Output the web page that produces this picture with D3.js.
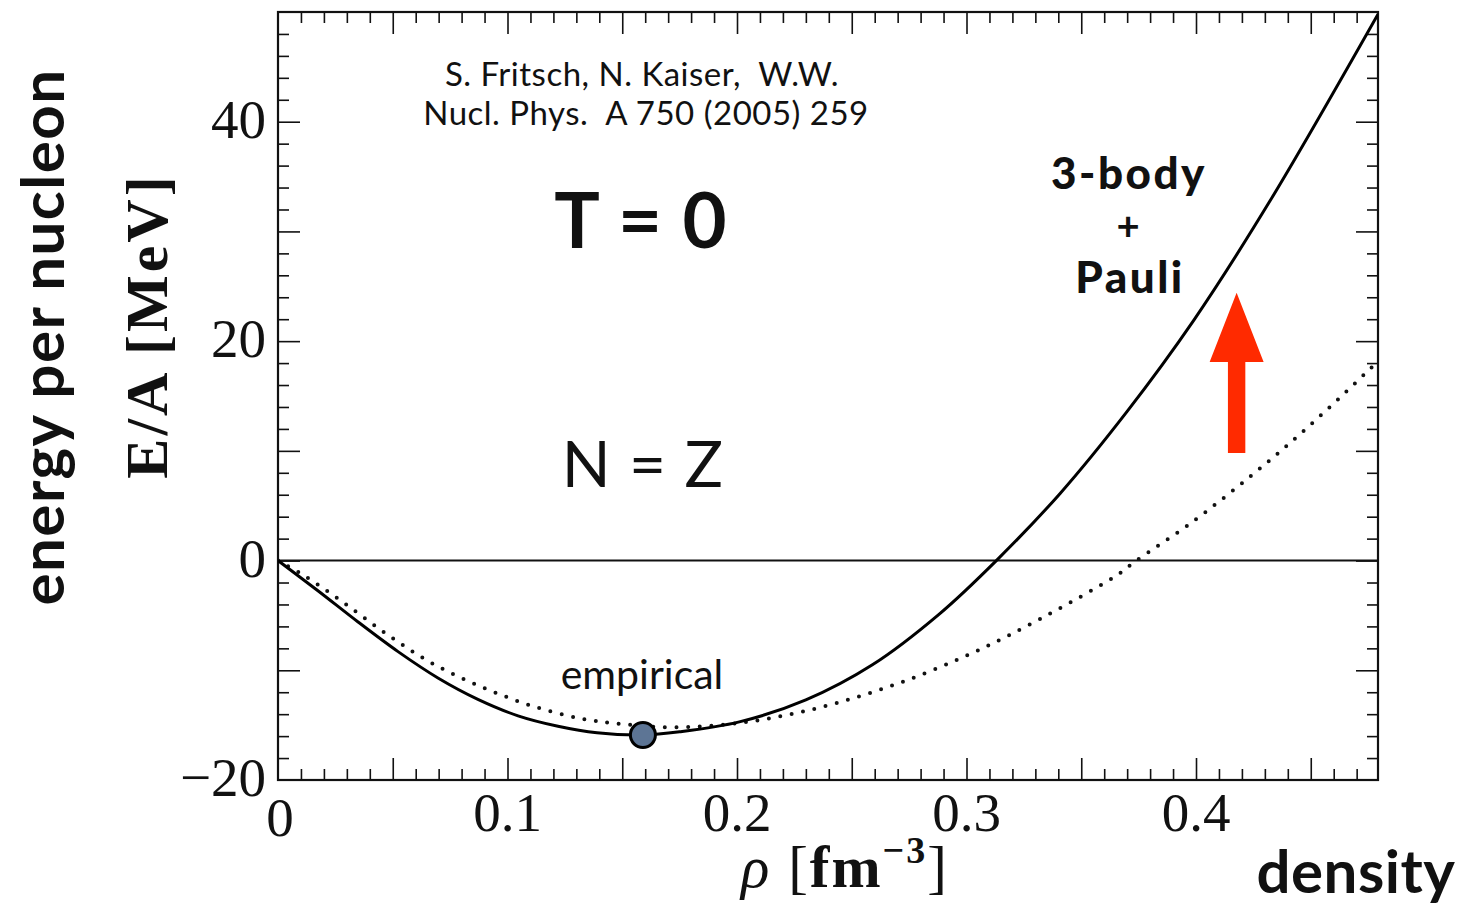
<!DOCTYPE html>
<html lang="en">
<head>
  <meta charset="UTF-8">
  <title>Energy per nucleon vs density</title>
  <script src="https://d3js.org/d3.v7.min.js"></script>
  <style>
    html, body { margin: 0; padding: 0; background: #fff; overflow: hidden; }
    svg { display: block; }
    .cm { font-family: "Liberation Serif", "DejaVu Serif", serif; fill: #111; }
    .gs { font-family: Lato, "Noto Sans", sans-serif; fill: #111; }
  </style>
</head>
<body>
  <svg width="1484" height="909"></svg>
  <script>
    // solid curve (3-body + Pauli)
    const solidRho = [0, 0.0174, 0.0349, 0.0523, 0.0697, 0.0871, 0.1046, 0.122, 0.139, 0.159, 0.175, 0.201, 0.230, 0.259, 0.288, 0.313, 0.3407, 0.370, 0.399, 0.432, 0.4793];
    const solidE   = [0, -2.75, -5.6, -8.3, -10.7, -12.65, -14.15, -15.1, -15.7, -15.9, -15.6, -14.7, -12.7, -9.5, -4.9, 0, 6.1, 13.6, 21.9, 32.7, 49.8];
    // dotted curve (without)
    const dottedRho = [0, 0.0116, 0.029, 0.048, 0.0675, 0.0886, 0.110, 0.132, 0.150, 0.172, 0.201, 0.230, 0.259, 0.288, 0.320, 0.365, 0.374, 0.397, 0.425, 0.450, 0.4765];
    const dottedE   = [0, -1.4, -3.9, -6.8, -9.4, -11.5, -13.2, -14.4, -14.9, -15.2, -14.8, -13.7, -12.0, -9.75, -6.65, -1.4, 0, 3.3, 7.9, 12.4, 17.6];
    // empirical saturation point
    const empiricalPoint = [0.159, -15.9];
    // red arrow: rho, then tail / head base / tip energies
    const arrowRho = 0.4177;
    const arrowE = [9.8, 18.1, 24.4];

    const xTickLabels = [0, 0.1, 0.2, 0.3, 0.4];
    const yTickLabels = [-20, 0, 20, 40];

    const svg = d3.select("svg");
    const width = +svg.attr("width");
    const height = +svg.attr("height");
    const margin = {top: 12, right: 106, bottom: 129, left: 278};
    const innerWidth = width - margin.left - margin.right;
    const innerHeight = height - margin.top - margin.bottom;
    const g = svg.append("g").attr("transform", `translate(${margin.left},${margin.top})`);

    const x = d3.scaleLinear().domain([0, 0.4793]).range([0, innerWidth]);
    const y = d3.scaleLinear().domain([-20, 50]).range([innerHeight, 0]);

    // tick positions
    const xMinor = d3.range(1, 48).map(i => i / 100).filter((v, i) => (i + 1) % 5 !== 0);
    const xMajor = d3.range(1, 10).map(i => i * 0.05);
    const yMinor = d3.range(-18, 50, 2).filter(v => v % 10 !== 0);
    const yMajor = d3.range(-10, 50, 10);

    function tickGroup(axis, vals, size, transform) {
      g.append("g")
        .attr("transform", transform)
        .call(axis.tickValues(vals).tickSizeInner(size).tickSizeOuter(0).tickFormat(""))
        .call(a => a.select(".domain").remove())
        .call(a => a.selectAll("text").remove())
        .selectAll("line")
        .attr("stroke", "#111")
        .attr("stroke-width", 1.6);
    }
    tickGroup(d3.axisBottom(x), xMinor, -11, `translate(0,${innerHeight})`);
    tickGroup(d3.axisBottom(x), xMajor, -22, `translate(0,${innerHeight})`);
    tickGroup(d3.axisTop(x), xMinor, -11, "translate(0,0)");
    tickGroup(d3.axisTop(x), xMajor, -22, "translate(0,0)");
    tickGroup(d3.axisLeft(y), yMinor, -11, "translate(0,0)");
    tickGroup(d3.axisLeft(y), yMajor, -22, "translate(0,0)");
    tickGroup(d3.axisRight(y), yMinor, -11, `translate(${innerWidth},0)`);
    tickGroup(d3.axisRight(y), yMajor, -22, `translate(${innerWidth},0)`);

    // frame
    g.append("rect")
      .attr("width", innerWidth).attr("height", innerHeight)
      .attr("fill", "none").attr("stroke", "#111").attr("stroke-width", 2.2);

    // zero line
    g.append("line")
      .attr("x1", 0).attr("x2", innerWidth)
      .attr("y1", y(0)).attr("y2", y(0))
      .attr("stroke", "#111").attr("stroke-width", 2);

    // tick labels
    const fmtX = d => d === 0 ? "0" : d3.format(".1f")(d);
    g.selectAll(".xlab").data(xTickLabels).join("text")
      .attr("class", "cm")
      .attr("x", d => x(d) + (d === 0 ? 2 : 0))
      .attr("y", d => innerHeight + (d === 0 ? 56 : 51))
      .attr("text-anchor", "middle")
      .attr("font-size", 55)
      .text(fmtX);
    g.selectAll(".ylab").data(yTickLabels).join("text")
      .attr("class", "cm")
      .attr("x", -12)
      .attr("y", d => y(d) + 16)
      .attr("text-anchor", "end")
      .attr("font-size", 55)
      .text(d => d < 0 ? "\u2212" + Math.abs(d) : d);

    // curves
    g.append("clipPath").attr("id", "plot")
      .append("rect").attr("width", innerWidth).attr("height", innerHeight);

    const line = d3.line()
      .x(d => x(d[0]))
      .y(d => y(d[1]))
      .curve(d3.curveCatmullRom.alpha(0.5));

    g.append("path")
      .datum(d3.zip(dottedRho, dottedE))
      .attr("clip-path", "url(#plot)")
      .attr("fill", "none")
      .attr("stroke", "#111")
      .attr("stroke-width", 4)
      .attr("stroke-linecap", "round")
      .attr("stroke-dasharray", "0 11.6")
      .attr("d", line);

    g.append("path")
      .datum(d3.zip(solidRho, solidE))
      .attr("clip-path", "url(#plot)")
      .attr("fill", "none")
      .attr("stroke", "#000")
      .attr("stroke-width", 3)
      .attr("d", line);

    // empirical point
    g.append("circle")
      .attr("cx", x(empiricalPoint[0]))
      .attr("cy", y(empiricalPoint[1]))
      .attr("r", 12.5)
      .attr("fill", "#5d7595")
      .attr("stroke", "#000")
      .attr("stroke-width", 3);

    // red arrow
    const ax = x(arrowRho);
    const shaftHalf = 8.7, headHalf = 27;
    const arrowPts = [
      [ax - shaftHalf, y(arrowE[0])], [ax - shaftHalf, y(arrowE[1])], [ax - headHalf, y(arrowE[1])],
      [ax, y(arrowE[2])],
      [ax + headHalf, y(arrowE[1])], [ax + shaftHalf, y(arrowE[1])], [ax + shaftHalf, y(arrowE[0])]
    ];
    g.append("path")
      .attr("d", d3.line()(arrowPts) + "Z")
      .attr("fill", "#ff2a00");

    // annotations
    function label(txt, px, py, size, weight, spacing = 0) {
      return svg.append("text")
        .attr("class", "gs")
        .attr("x", px).attr("y", py)
        .attr("text-anchor", "middle")
        .attr("font-size", size)
        .attr("font-weight", weight)
        .attr("letter-spacing", spacing)
        .attr("xml:space", "preserve")
        .text(txt);
    }
    label("S. Fritsch, N. Kaiser,  W.W.", 642, 86, 33, 400, 0.5);
    label("Nucl. Phys.  A 750 (2005) 259", 646, 125, 33, 400, 0.5);
    label("T = 0", 641, 248, 76, 700, 1);
    label("N = Z", 643, 487, 64, 400, 1);
    label("empirical", 642, 689, 41, 400);
    label("3-body", 1129, 189, 44, 900, 2.5);
    label("+", 1128, 240, 40, 700);
    label("Pauli", 1130, 293, 44, 900, 2.5);
    label("density", 1356, 893, 60, 700, 0.5);

    svg.append("text")
      .attr("class", "gs")
      .attr("transform", "translate(64,337) rotate(-90)")
      .attr("text-anchor", "middle")
      .attr("font-size", 60)
      .attr("font-weight", 700)
      .attr("letter-spacing", 1.5)
      .text("energy per nucleon");

    svg.append("text")
      .attr("class", "cm")
      .attr("transform", "translate(167,326) rotate(-90)")
      .attr("text-anchor", "middle")
      .attr("font-size", 60)
      .attr("font-weight", 700)
      .attr("letter-spacing", 3)
      .text("E/A [MeV]");

    // x axis title: rho [fm^-3]
    const xt = svg.append("text")
      .attr("class", "cm")
      .attr("x", 845).attr("y", 887)
      .attr("text-anchor", "middle")
      .attr("font-size", 59)
      .attr("letter-spacing", 2);
    xt.append("tspan").attr("font-style", "italic").text("\u03c1 ");
    xt.append("tspan").attr("font-weight", 400).text("[");
    xt.append("tspan").attr("font-weight", 700).text("fm");
    xt.append("tspan").attr("font-weight", 700).attr("font-size", 38).attr("dy", -24).text("\u22123");
    xt.append("tspan").attr("font-weight", 400).attr("dy", 24).text("]");
  </script>
</body>
</html>
